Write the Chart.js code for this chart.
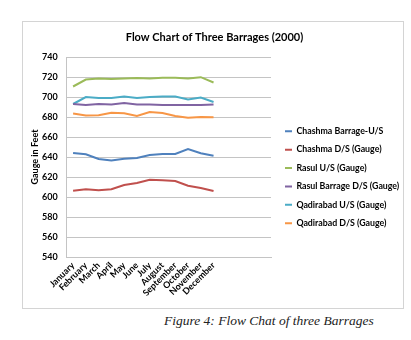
<!DOCTYPE html>
<html>
<head>
<meta charset="utf-8">
<script src="https://cdn.jsdelivr.net/npm/chart.js@4/dist/chart.umd.min.js"></script>
<style>
  body { margin: 0; background: #fff; width: 411px; height: 340px; position: relative; overflow: hidden; }
  #box { position: absolute; left: 22px; top: 21px; width: 380px; height: 286px; border: 1px solid #d4d4d4; }
  #caption { position: absolute; left: 164px; top: 313px; font: italic 13.5px "Liberation Serif", serif; color: #222; white-space: nowrap; }
</style>
</head>
<body>
<div id="box"><canvas id="flow-chart" width="380" height="286"></canvas></div>
<div id="caption">Figure 4: Flow Chat of three Barrages</div>
<script>
  var months = ['January', 'February', 'March', 'April', 'May', 'June', 'July',
    'August', 'September', 'October', 'November', 'December'];

  var chashmaUS = [644, 642.7, 638, 636.5, 638.3, 639, 642, 643, 643, 648, 643.7, 641.3];
  var chashmaDS = [606.3, 607.7, 606.7, 607.7, 612, 614, 617.3, 616.7, 616, 611.3, 609, 606];
  var rasulUS = [710.5, 717.5, 718.5, 718, 718.5, 719, 718.5, 719.2, 719.2, 718.6, 719.8, 714.5];
  var rasulDS = [693, 692, 693, 692.5, 694, 692.5, 692.5, 692, 692, 692, 692, 692.5];
  var qadirabadUS = [693, 700, 699, 699, 700.5, 699, 700, 700.5, 700.5, 697.5, 699.5, 695];
  var qadirabadDS = [683.5, 681.5, 681.8, 684.3, 683.7, 681, 685, 684, 681, 679.3, 680, 679.8];

  var yTicks = [540, 560, 580, 600, 620, 640, 660, 680, 700, 720, 740];

  // the plot in the picture leaves room for 4 more months on the right
  var xLabels = months.concat(['', '', '', '']);

  Chart.defaults.font.family = 'Lato, "Liberation Sans", sans-serif';
  Chart.defaults.color = '#111';

  function series(label, values, color) {
    return {
      label: label,
      data: values,
      borderColor: color,
      backgroundColor: color,
      borderWidth: 2,
      pointRadius: 0,
      tension: 0,
      fill: false
    };
  }

  // nudge the legend a bit right of the plot, like excel does
  var legendShift = {
    id: 'legendShift',
    afterLayout: function(chart) {
      chart.legend.left += 4.4;
      chart.legend.right += 4.4;
    }
  };

  var ctx = document.getElementById('flow-chart').getContext('2d');
  var chart = new Chart(ctx, {
    type: 'line',
    data: {
      labels: xLabels,
      datasets: [
        series('Chashma Barrage-U/S', chashmaUS, '#4F81BD'),
        series('Chashma D/S (Gauge)', chashmaDS, '#C0504D'),
        series('Rasul U/S (Gauge)', rasulUS, '#9BBB59'),
        series('Rasul Barrage D/S (Gauge)', rasulDS, '#8064A2'),
        series('Qadirabad U/S (Gauge)', qadirabadUS, '#4BACC6'),
        series('Qadirabad D/S (Gauge)', qadirabadDS, '#F79646')
      ]
    },
    options: {
      responsive: false,
      animation: false,
      layout: { padding: { left: 3, right: 0, top: 0, bottom: 12.5 } },
      plugins: {
        title: {
          display: true,
          text: 'Flow Chart of Three Barrages (2000)',
          color: '#000',
          font: { size: 11, weight: 'bold' },
          padding: { top: 8.4, bottom: 13.4 }
        },
        legend: {
          display: true,
          position: 'right',
          maxWidth: 132,
          // empty title only pushes the entries down like in the picture
          title: { display: true, text: '', font: { size: 10 }, padding: { top: 25, bottom: 0 } },
          labels: {
            boxWidth: 7,
            boxHeight: 0,
            padding: 9.6,
            color: '#000',
            font: { size: 8.8, weight: 'bold' }
          }
        },
        tooltip: { enabled: false }
      },
      scales: {
        x: {
          offset: true,
          grid: { display: false, drawTicks: false },
          border: { display: true, color: '#c4c4c4', width: 1 },
          ticks: {
            autoSkip: false,
            minRotation: 45,
            maxRotation: 45,
            padding: 3,
            color: '#000',
            font: { size: 9, weight: 'bold' }
          },
          afterFit: function(scale) { scale.height = 38.5; }
        },
        y: {
          min: 540,
          max: 740,
          afterBuildTicks: function(scale) {
            scale.ticks = yTicks.map(function(v) { return { value: v }; });
          },
          grid: { color: '#c4c4c4', drawTicks: false },
          border: { display: true, color: '#c4c4c4' },
          ticks: {
            padding: 9,
            color: '#000',
            font: { size: 9, weight: 'bold' }
          },
          title: {
            display: true,
            text: 'Gauge in Feet',
            color: '#000',
            font: { size: 9, weight: 'bold' },
            padding: { top: 4, bottom: 4 }
          },
          afterFit: function(scale) { scale.width = 40.7; }
        }
      }
    },
    plugins: [legendShift]
  });
</script>
</body>
</html>
